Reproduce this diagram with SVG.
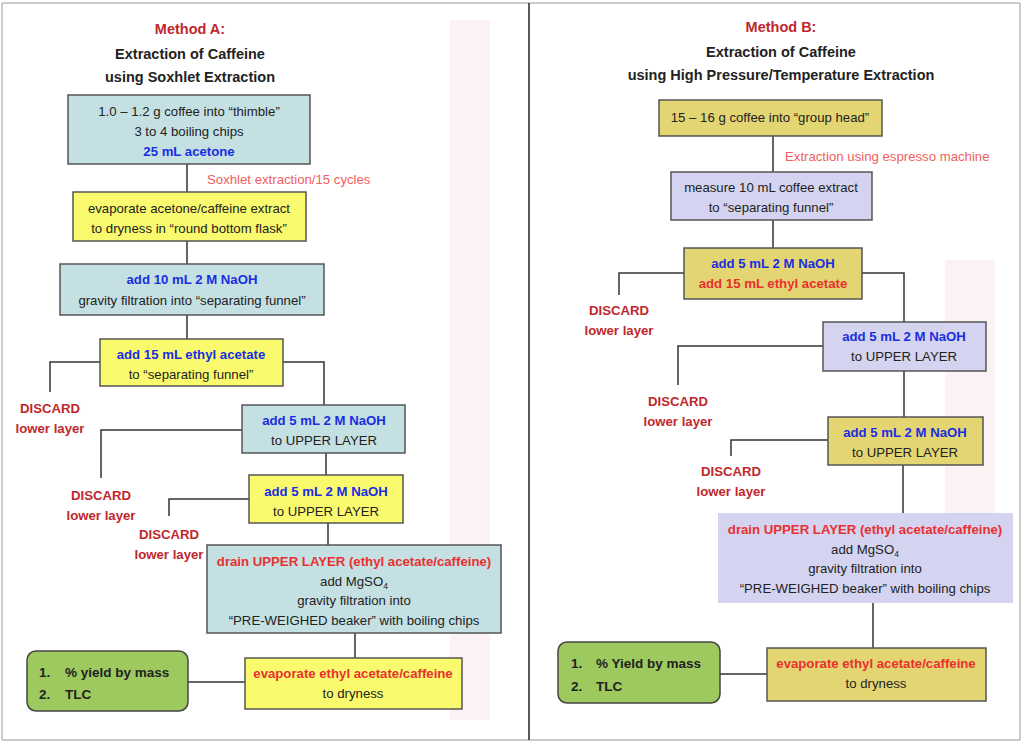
<svg xmlns="http://www.w3.org/2000/svg" width="1024" height="742" viewBox="0 0 1024 742">
<style>
text{font-family:"Liberation Sans",Arial,sans-serif;font-size:13.2px;fill:#222;text-anchor:middle}
.t{font-size:14.5px;font-weight:bold}
.m{fill:#c0282d}
.b{fill:#1a2ee0;font-weight:bold}
.r{fill:#e83030;font-weight:bold}
.p{fill:#f06060}
.d{fill:#c0282d;font-weight:bold}
.g{font-weight:bold;text-anchor:start;font-size:13.5px}
.teal{fill:#c4e0e2;stroke:#555;stroke-width:1.5}
.yel{fill:#fafa6e;stroke:#555;stroke-width:1.5}
.oli{fill:#e3d672;stroke:#555;stroke-width:1.5}
.lav{fill:#d4d4f0;stroke:#555;stroke-width:1.5}
.grn{fill:#9dc95e;stroke:#444;stroke-width:1.5}
#conn path{fill:none;stroke:#333;stroke-width:1.5}
</style>
<rect width="1024" height="742" fill="#fff"/>
<g opacity="0.06" fill="#c0282d">
<rect x="450" y="20" width="40" height="700"/>
<rect x="945" y="260" width="50" height="300"/>
</g>
<path d="M2 3H1020V740H2Z" fill="none" stroke="#999" stroke-width="1"/>
<line x1="529" y1="3" x2="529" y2="740" stroke="#222" stroke-width="1.5"/>
<g id="titleA">
<text class="t m" x="190" y="34">Method A:</text>
<text class="t" x="190" y="59">Extraction of Caffeine</text>
<text class="t" x="190" y="82">using Soxhlet Extraction</text>
</g>
<g id="titleB">
<text class="t m" x="781" y="32">Method B:</text>
<text class="t" x="781" y="57">Extraction of Caffeine</text>
<text class="t" x="781" y="80">using High Pressure/Temperature Extraction</text>
</g>
<g id="conn">
<path d="M187 164V192M187 241V264M187 315V339"/>
<path d="M100 362H50V392M283 362H324V405"/>
<path d="M242 430H101V478M326 453V475M249 499H169V516M328 523V545M355 633V658M188 682H245"/>
<path d="M773 136V172M773 220V248M684 273H619V295M862 273H904V322"/>
<path d="M823 346H678V385M904 371V417M828 440H731V456M903 465V513M873 603V648M720 674H767"/>
</g>
<text class="p" x="207" y="184" style="text-anchor:start">Soxhlet extraction/15 cycles</text>
<text class="p" x="785" y="161" style="text-anchor:start">Extraction using espresso machine</text>
<g id="A1"><rect class="teal" x="68" y="95" width="242" height="69"/>
<text x="189" y="116">1.0 – 1.2 g coffee into “thimble”</text><text x="189" y="136">3 to 4 boiling chips</text><text class="b" x="189" y="156">25 mL acetone</text></g>
<g id="A2"><rect class="yel" x="73" y="192" width="233" height="49"/>
<text x="189" y="213">evaporate acetone/caffeine extract</text><text x="189" y="233">to dryness in “round bottom flask”</text></g>
<g id="A3"><rect class="teal" x="60" y="264" width="264" height="51"/>
<text class="b" x="192" y="284">add 10 mL 2 M NaOH</text><text x="192" y="305">gravity filtration into “separating funnel”</text></g>
<g id="A4"><rect class="yel" x="100" y="339" width="183" height="47"/>
<text class="b" x="191" y="359">add 15 mL ethyl acetate</text><text x="191" y="379">to “separating funnel”</text></g>
<g id="A5"><rect class="teal" x="242" y="405" width="163" height="48"/>
<text class="b" x="324" y="425">add 5 mL 2 M NaOH</text><text x="324" y="445">to UPPER LAYER</text></g>
<g id="A6"><rect class="yel" x="249" y="475" width="154" height="48"/>
<text class="b" x="326" y="496">add 5 mL 2 M NaOH</text><text x="326" y="516">to UPPER LAYER</text></g>
<g id="A7"><rect class="teal" x="207" y="545" width="294" height="88"/>
<text class="r" x="354" y="566">drain UPPER LAYER (ethyl acetate/caffeine)</text><text x="354" y="586">add MgSO<tspan font-size="8.5" dy="3">4</tspan></text><text x="354" y="605">gravity filtration into</text><text x="354" y="625">“PRE-WEIGHED beaker” with boiling chips</text></g>
<g id="A8"><rect class="yel" x="245" y="658" width="217" height="51"/>
<text class="r" x="353" y="678">evaporate ethyl acetate/caffeine</text><text x="353" y="698">to dryness</text></g>
<g id="A9"><rect class="grn" x="27" y="651" width="161" height="60" rx="9"/>
<text class="g" x="39" y="677">1.</text><text class="g" x="65" y="677">% yield by mass</text><text class="g" x="39" y="699">2.</text><text class="g" x="65" y="699">TLC</text></g>
<g id="DA1"><text class="d" x="50" y="413">DISCARD</text><text class="d" x="50" y="433">lower layer</text></g>
<g id="DA2"><text class="d" x="101" y="500">DISCARD</text><text class="d" x="101" y="520">lower layer</text></g>
<g id="DA3"><text class="d" x="169" y="539">DISCARD</text><text class="d" x="169" y="559">lower layer</text></g>
<g id="B1"><rect class="oli" x="659" y="100" width="223" height="36"/>
<text x="770" y="122">15 – 16 g coffee into “group head”</text></g>
<g id="B2"><rect class="lav" x="671" y="172" width="201" height="48"/>
<text x="771" y="192">measure 10 mL coffee extract</text><text x="771" y="212">to “separating funnel”</text></g>
<g id="B3"><rect class="oli" x="684" y="248" width="178" height="51"/>
<text class="b" x="773" y="268">add 5 mL 2 M NaOH</text><text class="r" x="773" y="288">add 15 mL ethyl acetate</text></g>
<g id="B4"><rect class="lav" x="823" y="322" width="163" height="49"/>
<text class="b" x="904" y="341">add 5 mL 2 M NaOH</text><text x="904" y="361">to UPPER LAYER</text></g>
<g id="B5"><rect class="oli" x="828" y="417" width="155" height="48"/>
<text class="b" x="905" y="437">add 5 mL 2 M NaOH</text><text x="905" y="457">to UPPER LAYER</text></g>
<g id="B6"><rect fill="#d4d4f0" x="718" y="513" width="295" height="90"/>
<text class="r" x="865" y="534">drain UPPER LAYER (ethyl acetate/caffeine)</text><text x="865" y="554">add MgSO<tspan font-size="8.5" dy="3">4</tspan></text><text x="865" y="573">gravity filtration into</text><text x="865" y="593">“PRE-WEIGHED beaker” with boiling chips</text></g>
<g id="B7"><rect class="oli" x="767" y="648" width="219" height="53"/>
<text class="r" x="876" y="668">evaporate ethyl acetate/caffeine</text><text x="876" y="688">to dryness</text></g>
<g id="B8"><rect class="grn" x="558" y="642" width="162" height="61" rx="9"/>
<text class="g" x="571" y="668">1.</text><text class="g" x="596" y="668">% Yield by mass</text><text class="g" x="571" y="691">2.</text><text class="g" x="596" y="691">TLC</text></g>
<g id="DB1"><text class="d" x="619" y="315">DISCARD</text><text class="d" x="619" y="335">lower layer</text></g>
<g id="DB2"><text class="d" x="678" y="406">DISCARD</text><text class="d" x="678" y="426">lower layer</text></g>
<g id="DB3"><text class="d" x="731" y="476">DISCARD</text><text class="d" x="731" y="496">lower layer</text></g>
</svg>
